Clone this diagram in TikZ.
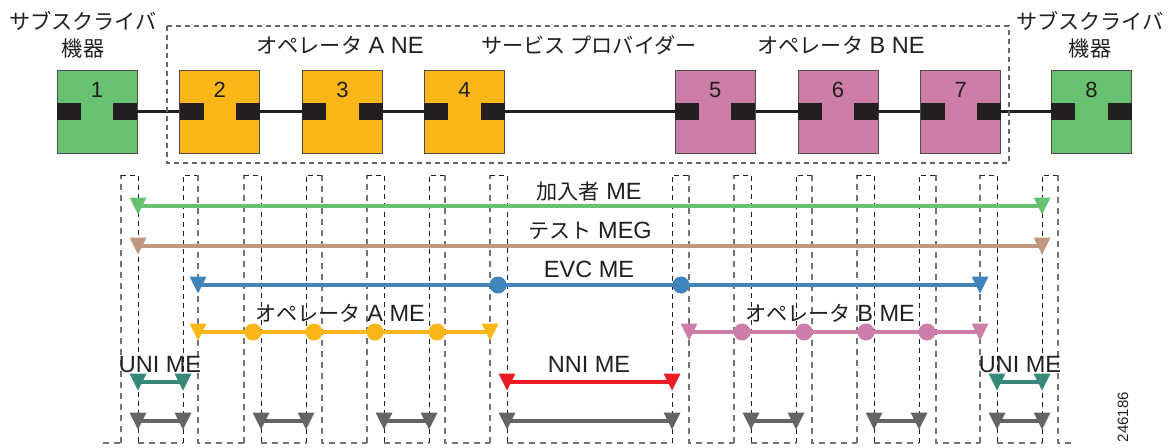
\documentclass[tikz,border=0pt]{standalone}
\usepackage{fontspec}
\setmainfont{Liberation Sans}
\newfontfamily\jp[Scale=0.9]{Noto Sans CJK JP}
\usepackage{tikz}
\usetikzlibrary{positioning}
\definecolor{subgreen}{HTML}{68C170}
\definecolor{opaorange}{HTML}{FBB717}
\definecolor{opbpink}{HTML}{CC7EA9}
\definecolor{evcblue}{HTML}{3F84BD}
\definecolor{testtan}{HTML}{C1977E}
\definecolor{uniteal}{HTML}{35887A}
\definecolor{nnired}{HTML}{ED1C24}
\definecolor{linkgray}{HTML}{636466}
\definecolor{inkblack}{HTML}{231F20}
\tikzset{
  dev/.style={rectangle, draw=black!70, line width=0.8pt, minimum width=80pt, minimum height=83pt, inner sep=0pt},
  port/.style={rectangle, fill=inkblack, minimum width=24pt, minimum height=17pt, inner sep=0pt},
  num/.style={font=\fontsize{22}{24}\selectfont, text=inkblack, anchor=base, inner sep=0pt, yshift=-28pt},
  lbl/.style={font=\fontsize{23.5}{26}\selectfont, text=inkblack, anchor=base, inner sep=0pt},
  link/.style={draw=inkblack, line width=2.2pt},
  me/.style={draw=#1, line width=3.2pt},
  dot/.style={circle, fill=#1, minimum size=17pt, inner sep=0pt},
  regiondash/.style={draw=black!60, line width=1.2pt, dash pattern=on 5pt off 4pt},
  blackdash/.style={draw=inkblack, line width=1pt, dash pattern=on 5pt off 4pt},
  graydash/.style={draw=black!55, line width=1.3pt, dash pattern=on 6pt off 5pt},
  pics/tri/.style={code={\fill[#1] (-8.5,-8.5) -- (8.5,-8.5) -- (0,8.5) -- cycle;}},
}
\begin{document}
\begin{tikzpicture}[x=1pt, y=-1pt]
\useasboundingbox (0,0) rectangle (1175,447);

%Devices
\node[dev, fill=subgreen] (d1) at (97,111.5) {};
\node[dev, fill=opaorange] (d2) [right=42pt of d1] {};
\node[dev, fill=opaorange] (d3) [right=42pt of d2] {};
\node[dev, fill=opaorange] (d4) [right=41pt of d3] {};
\node[dev, fill=opbpink] (d5) [right=170pt of d4] {};
\node[dev, fill=opbpink] (d6) [right=42pt of d5] {};
\node[dev, fill=opbpink] (d7) [right=42pt of d6] {};
\node[dev, fill=subgreen] (d8) [right=50pt of d7] {};

%Ports and numbers
\foreach \i in {1,...,8} {
  \node[port, anchor=west] (p\i w) at (d\i.west) {};
  \node[port, anchor=east] (p\i e) at (d\i.east) {};
  \node[num] (n\i) at (d\i.north) {\i};
}

%Links
\draw[link] (p1e) -- (p2w);
\draw[link] (p2e) -- (p3w);
\draw[link] (p3e) -- (p4w);
\draw[link] (p4e) -- (p5w);
\draw[link] (p5e) -- (p6w);
\draw[link] (p6e) -- (p7w);
\draw[link] (p7e) -- (p8w);

%Domain
\draw[regiondash] (167,26) rectangle (1009,163);

%Titles
\node[lbl] (subA1) at (83,29) {\jp サブスクライバ};
\node[lbl] (subA2) at (83,56) {\jp 機器};
\node[lbl] (subB1) at (1090,29) {\jp サブスクライバ};
\node[lbl] (subB2) at (1090,56) {\jp 機器};
\node[lbl] (opane) at (340,53) {{\jp オペレータ} A NE};
\node[lbl] (spro) at (589,53) {\jp サービス プロバイダー};
\node[lbl] (opbne) at (841,53) {{\jp オペレータ} B NE};

%Port columns
\draw[graydash] (103,443) -- (121,443);
\foreach \a/\b/\c/\d/\e in {121/138/183/198/244, 244/261/306/322/367, 367/384/429/445/490,
    490/507/672/689/734, 734/751/796/812/857, 857/874/919/936/980, 980/997/1042/1058/1075} {
  \draw[graydash] (\a,443) -- (\a,175);
  \draw[blackdash] (\a,175) -- (\b,175) -- (\b,443);
  \draw[graydash] (\b,443) -- (\c,443);
  \draw[blackdash] (\c,443) -- (\c,175) -- (\d,175);
  \draw[graydash] (\d,175) -- (\d,443) -- (\e,443);
}

%Subscriber ME
\coordinate (sub1) at (138,206);
\coordinate (sub2) at (1042,206);
\draw[me=subgreen] (sub1) -- (sub2);
\pic at (sub1) {tri=subgreen};
\pic at (sub2) {tri=subgreen};
\node[lbl] (subl) at (589,199) {{\jp 加入者} ME};

%Test MEG
\coordinate (tst1) at (138,246);
\coordinate (tst2) at (1042,246);
\draw[me=testtan] (tst1) -- (tst2);
\pic at (tst1) {tri=testtan};
\pic at (tst2) {tri=testtan};
\node[lbl] (tstl) at (590,238) {{\jp テスト} MEG};

%EVC ME
\coordinate (evc1) at (198,285);
\coordinate (evc2) at (980,285);
\draw[me=evcblue] (evc1) -- (evc2);
\pic at (evc1) {tri=evcblue};
\pic at (evc2) {tri=evcblue};
\node[dot=evcblue] (evcm1) at (498,285) {};
\node[dot=evcblue] (evcm2) at (681,285) {};
\node[lbl] (evcl) at (589,277) {EVC ME};

%Operator A ME
\coordinate (opa1) at (198,332);
\coordinate (opa2) at (490,332);
\draw[me=opaorange] (opa1) -- (opa2);
\pic at (opa1) {tri=opaorange};
\pic at (opa2) {tri=opaorange};
\node[dot=opaorange] (opam1) at (253,332) {};
\node[dot=opaorange] (opam2) at (314,332) {};
\node[dot=opaorange] (opam3) at (375,332) {};
\node[dot=opaorange] (opam4) at (437,332) {};
\node[lbl] (opal) at (340,321) {{\jp オペレータ} A ME};

%Operator B ME
\coordinate (opb1) at (689,332);
\coordinate (opb2) at (980,332);
\draw[me=opbpink] (opb1) -- (opb2);
\pic at (opb1) {tri=opbpink};
\pic at (opb2) {tri=opbpink};
\node[dot=opbpink] (opbm1) at (742,332) {};
\node[dot=opbpink] (opbm2) at (804,332) {};
\node[dot=opbpink] (opbm3) at (866,332) {};
\node[dot=opbpink] (opbm4) at (927,332) {};
\node[lbl] (opbl) at (830,321) {{\jp オペレータ} B ME};

%UNI and NNI ME
\coordinate (unia1) at (138,382);
\coordinate (unia2) at (183,382);
\draw[me=uniteal] (unia1) -- (unia2);
\pic at (unia1) {tri=uniteal};
\pic at (unia2) {tri=uniteal};
\node[lbl] (unial) at (160,372) {UNI ME};
\coordinate (unib1) at (997,382);
\coordinate (unib2) at (1042,382);
\draw[me=uniteal] (unib1) -- (unib2);
\pic at (unib1) {tri=uniteal};
\pic at (unib2) {tri=uniteal};
\node[lbl] (unibl) at (1020,372) {UNI ME};
\coordinate (nni1) at (507,382);
\coordinate (nni2) at (672,382);
\draw[me=nnired] (nni1) -- (nni2);
\pic at (nni1) {tri=nnired};
\pic at (nni2) {tri=nnired};
\node[lbl] (nnil) at (589,372) {NNI ME};

%Link level
\foreach \l/\r [count=\k] in {138/183, 261/306, 384/429, 507/672, 751/796, 874/919, 997/1042} {
  \coordinate (lk\k a) at (\l,421);
  \coordinate (lk\k b) at (\r,421);
  \draw[me=linkgray] (lk\k a) -- (lk\k b);
  \pic at (lk\k a) {tri=linkgray};
  \pic at (lk\k b) {tri=linkgray};
}

\node[rotate=90, font=\fontsize{15}{15}\selectfont, text=inkblack, inner sep=0pt] (figid) at (1123,417) {246186};
\end{tikzpicture}
\end{document}
